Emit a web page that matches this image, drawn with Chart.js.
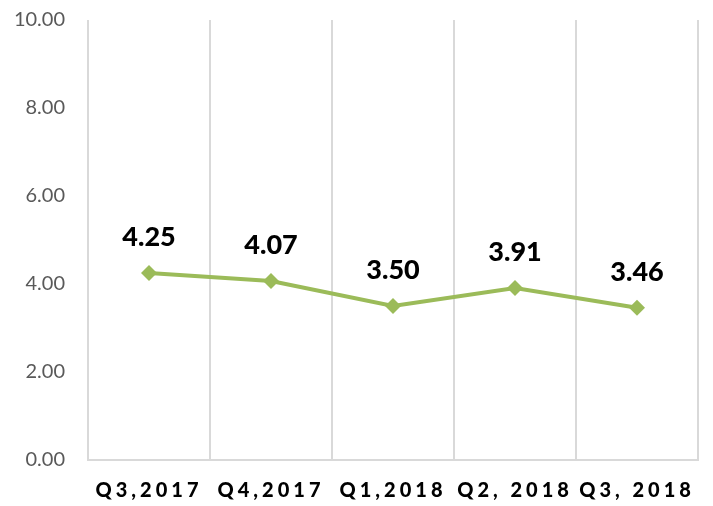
<!DOCTYPE html>
<html>
<head>
<meta charset="utf-8">
<script src="https://cdn.jsdelivr.net/npm/chart.js@4/dist/chart.umd.min.js"></script>
<style>
    html, body { margin: 0; padding: 0; background: #fff; overflow: hidden; }
    #wrap { width: 713px; height: 521px; margin-top: -15px; }
</style>
</head>
<body>
<div id="wrap"><canvas id="chart"></canvas></div>
<script>
const LINE_COLOR = '#9bbb59';
const GRID_COLOR = '#d9d9d9';

const quarters = ['Q3,2017', 'Q4,2017', 'Q1,2018', 'Q2, 2018', 'Q3, 2018'];
const scores = [4.25, 4.07, 3.50, 3.91, 3.46];
const yTicks = [0, 2, 4, 6, 8, 10];

// Value labels above each point
const pointLabels = {
    id: 'pointLabels',
    afterDatasetsDraw(chart) {
        const ctx = chart.ctx;
        const meta = chart.getDatasetMeta(0);
        ctx.save();
        ctx.font = "900 27px Lato, sans-serif";
        ctx.fillStyle = '#000';
        ctx.textAlign = 'center';
        ctx.textBaseline = 'alphabetic';
        meta.data.forEach((pt, i) => {
            ctx.fillText(scores[i].toFixed(2), pt.x, pt.y - 27);
        });
        ctx.restore();
    }
};

// Wide letter spacing on the category labels only
const spacedLabels = {
    id: 'spacedLabels',
    afterLayout(chart) {
        const scale = chart.scales.x;
        if (scale._spaced) return;
        const orig = scale.drawLabels;
        scale.drawLabels = function (area) {
            chart.ctx.save();
            chart.ctx.letterSpacing = '4px';
            orig.call(this, area);
            chart.ctx.restore();
        };
        scale._spaced = true;
    }
};

new Chart(document.getElementById('chart'), {
    type: 'line',
    data: {
        labels: quarters,
        datasets: [{
            data: scores,
            borderColor: LINE_COLOR,
            backgroundColor: LINE_COLOR,
            borderWidth: 4,
            pointStyle: 'rectRot',
            pointRadius: 8,
            pointHoverRadius: 8,
            pointBorderWidth: 0,
            tension: 0
        }]
    },
    options: {
        responsive: true,
        maintainAspectRatio: false,
        animation: false,
        layout: { padding: { top: 6, right: 15, left: 0, bottom: 0 } },
        plugins: {
            legend: { display: false },
            tooltip: { enabled: false }
        },
        scales: {
            x: {
                offset: true,
                grid: { display: true, offset: true, color: GRID_COLOR, lineWidth: 2, drawTicks: false },
                border: { display: true, color: GRID_COLOR, width: 2 },
                ticks: {
                    color: '#000',
                    padding: 19,
                    maxRotation: 0,
                    autoSkip: false,
                    font: { family: 'Lato, sans-serif', size: 20, weight: '900' }
                },
                afterFit(scale) { scale.height = 46; }
            },
            y: {
                min: 0,
                max: 10,
                afterBuildTicks(scale) { scale.ticks = yTicks.map(v => ({ value: v })); },
                grid: { display: false, drawTicks: false },
                border: { display: false },
                ticks: {
                    color: '#595959',
                    padding: 23,
                    font: { family: 'Lato, sans-serif', size: 20 },
                    callback: v => Number(v).toFixed(2)
                },
                afterFit(scale) { scale.width = 88; }
            }
        }
    },
    plugins: [pointLabels, spacedLabels]
});
</script>
</body>
</html>
